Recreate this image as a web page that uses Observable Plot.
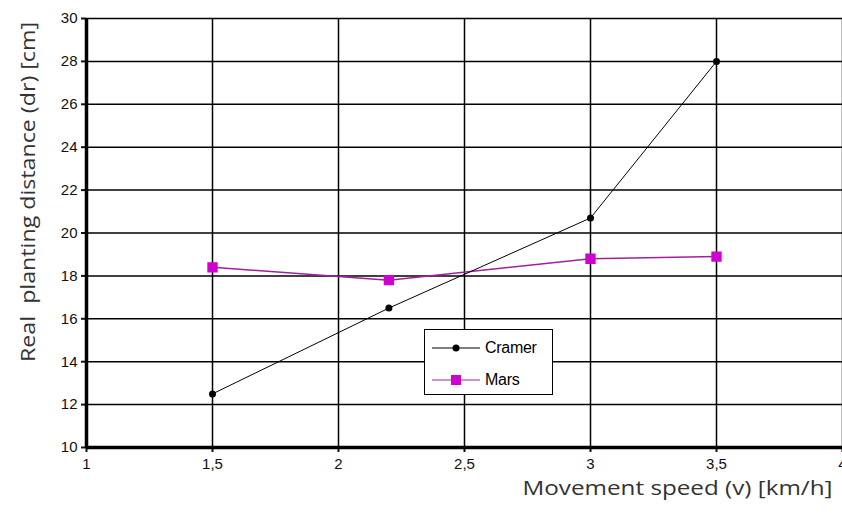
<!DOCTYPE html>
<html><head>
<meta charset="utf-8">
<script src="https://cdn.jsdelivr.net/npm/d3@7"></script>
<script src="https://cdn.jsdelivr.net/npm/@observablehq/plot@0.6"></script>
<style>
body{margin:0;background:#fff}
#wrap{position:relative;width:842px;height:516px;overflow:hidden}
#legend{position:absolute;left:424px;top:329px;width:127px;height:64px;border:1.5px solid #000;background:#fff;font-family:"Liberation Sans",Arial,sans-serif;font-size:16px;color:#000}
#legend .row{position:absolute;left:7px;height:20px;display:flex;align-items:center}
#legend .row span{margin-left:5px;letter-spacing:-0.3px}
</style>
</head><body>
<div id="wrap"></div>
<script>
const speeds = [1.5, 2.2, 3, 3.5];
const cramer = [12.5, 16.5, 20.7, 28];
const mars = [18.4, 17.8, 18.8, 18.9];
const seriesNames = ["Cramer", "Mars"];
const xTicks = [1, 1.5, 2, 2.5, 3, 3.5, 4];
const yTicks = [10, 12, 14, 16, 18, 20, 22, 24, 26, 28, 30];
const xTitle = "Movement speed (v) [km/h]";
const yTitle = "Real  planting distance (dr) [cm]";

const colors = {Cramer: "#000000", Mars: "#d000d0"};
const lineColors = {Cramer: "#000000", Mars: "#a020a0"};

const rows = [];
speeds.forEach((s, i) => {
  rows.push({series: "Cramer", x: s, y: cramer[i]});
  rows.push({series: "Mars", x: s, y: mars[i]});
});
const cr = rows.filter(d => d.series === "Cramer");
const mr = rows.filter(d => d.series === "Mars");
const fmt = d => String(d).replace(".", ",");
const titleFont = "'Open Sans', 'DejaVu Sans', sans-serif";

const chart = Plot.plot({
  width: 842,
  height: 516,
  marginLeft: 86,
  marginRight: 0,
  marginTop: 18,
  marginBottom: 69,
  style: {fontFamily: "'Liberation Sans', Arial, sans-serif", fontSize: "15px", background: "#fff", overflow: "visible", color: "#111"},
  x: {domain: [1, 4], ticks: xTicks},
  y: {domain: [10, 30], ticks: yTicks},
  marks: [
    Plot.gridX(xTicks, {stroke: "#000", strokeOpacity: 1, strokeWidth: 1.5}),
    Plot.gridY(yTicks, {stroke: "#000", strokeOpacity: 1, strokeWidth: 1.5}),
    Plot.axisX(xTicks, {tickFormat: fmt, tickSize: 5, tickPadding: 6, strokeWidth: 2, label: null, fontSize: 15}),
    Plot.axisY(yTicks, {tickSize: 5, tickPadding: 4, strokeWidth: 2, label: null, fontSize: 15}),
    Plot.text([xTitle], {frameAnchor: "bottom-right", textAnchor: "end", dx: -10, dy: 47,
      fontFamily: titleFont, fontSize: 20, fill: "#333", className: "xtitle"}),
    Plot.text([yTitle], {frameAnchor: "left", textAnchor: "middle", rotate: -90, dx: -58, dy: -41,
      fontFamily: titleFont, fontSize: 20, fill: "#333", className: "ytitle"}),
    Plot.ruleX([1], {stroke: "#000", strokeWidth: 3.5}),
    Plot.ruleY([10], {stroke: "#000", strokeWidth: 3.5}),
    Plot.line(mr, {x: "x", y: "y", stroke: lineColors.Mars, strokeWidth: 1.5}),
    Plot.dot(mr, {x: "x", y: "y", symbol: "square", r: 5, fill: colors.Mars, stroke: colors.Mars}),
    Plot.line(cr, {x: "x", y: "y", stroke: lineColors.Cramer, strokeWidth: 1}),
    Plot.dot(cr, {x: "x", y: "y", r: 3.5, fill: colors.Cramer})
  ]
});
d3.select(chart).select(".xtitle text").attr("textLength", 310).attr("lengthAdjust", "spacingAndGlyphs");
d3.select(chart).select(".ytitle text").attr("textLength", 340).attr("lengthAdjust", "spacingAndGlyphs");
document.getElementById("wrap").appendChild(chart);

// legend
const legend = document.createElement("div");
legend.id = "legend";
seriesNames.forEach((name, i) => {
  const row = document.createElement("div");
  row.className = "row";
  row.style.top = (i === 0 ? 8 : 40) + "px";
  const sym = name === "Mars"
    ? `<rect x="19" y="5" width="10" height="10" fill="${colors.Mars}"/>`
    : `<circle cx="24" cy="10" r="3.5" fill="#000"/>`;
  row.innerHTML = `<svg width="48" height="20"><line x1="0" x2="48" y1="10" y2="10" stroke="${lineColors[name]}" stroke-width="1.2"/>${sym}</svg><span>${name}</span>`;
  legend.appendChild(row);
});
document.getElementById("wrap").appendChild(legend);
</script>
</body></html>
